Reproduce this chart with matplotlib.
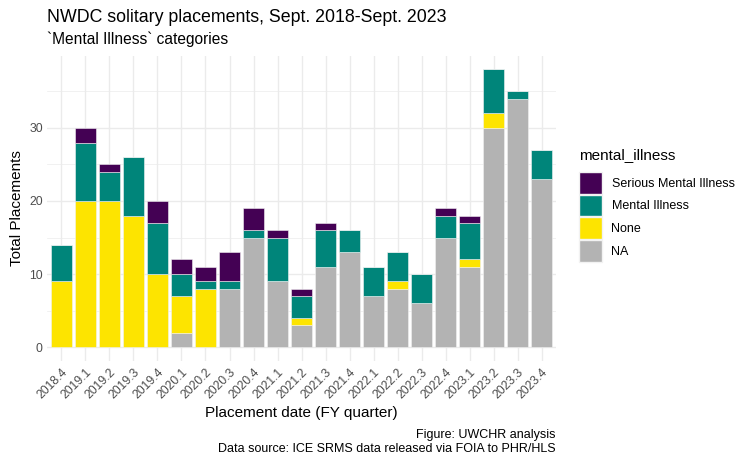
import matplotlib
matplotlib.use("Agg")
import matplotlib.pyplot as plt
from matplotlib.patches import Patch
import numpy as np

plt.rcParams['font.family'] = ['Liberation Sans', 'DejaVu Sans']

# quarters and counts per mental_illness category
quarters = ["2018.4", "2019.1", "2019.2", "2019.3", "2019.4", "2020.1", "2020.2",
            "2020.3", "2020.4", "2021.1", "2021.2", "2021.3", "2021.4", "2022.1",
            "2022.2", "2022.3", "2022.4", "2023.1", "2023.2", "2023.3", "2023.4"]
na_vals = [0, 0, 0, 0, 0, 2, 0, 8, 15, 9, 3, 11, 13, 7, 8, 6, 15, 11, 30, 34, 23]
none_vals = [9, 20, 20, 18, 10, 5, 8, 0, 0, 0, 1, 0, 0, 0, 1, 0, 0, 1, 2, 0, 0]
mi_vals = [5, 8, 4, 8, 7, 3, 1, 1, 1, 6, 3, 5, 3, 4, 4, 4, 3, 5, 6, 1, 4]
smi_vals = [0, 2, 1, 0, 3, 2, 2, 4, 3, 1, 1, 1, 0, 0, 0, 0, 1, 1, 0, 0, 0]

# couleurs (viridis + gris pour NA)
col_smi = "#440154"
col_mi = "#00857A"
col_none = "#FDE400"
col_na = "#B3B3B3"

fig = plt.figure(figsize=(7.5, 4.63), dpi=100)
ax = fig.add_axes([0.0627, 0.2203, 0.6787, 0.6597])

x = np.arange(len(quarters))
na = np.array(na_vals)
nn = np.array(none_vals)
mi = np.array(mi_vals)
smi = np.array(smi_vals)

kw = dict(width=0.9, edgecolor="#F2F2F2", linewidth=0.4, zorder=3)
ax.bar(x, na, color=col_na, **kw)
ax.bar(x, nn, bottom=na, color=col_none, **kw)
ax.bar(x, mi, bottom=na + nn, color=col_mi, **kw)
ax.bar(x, smi, bottom=na + nn + mi, color=col_smi, **kw)

total_max = (na + nn + mi + smi).max()
ax.set_ylim(-0.05 * total_max, total_max * 1.05)
ax.set_xlim(-0.6, len(quarters) - 0.4)

# grille façon theme_minimal
ax.set_yticks([0, 10, 20, 30])
ax.set_yticks([5, 15, 25, 35], minor=True)
ax.set_xticks(x)
ax.set_xticklabels(quarters, rotation=45, ha="right", rotation_mode="anchor",
                   fontsize=8.8, color="#4D4D4D")
ax.tick_params(axis="y", labelsize=8.8, labelcolor="#4D4D4D")
ax.tick_params(length=0, pad=3)
ax.tick_params(axis="x", pad=4)
ax.tick_params(which="minor", length=0)
ax.grid(which="major", color="#EBEBEB", linewidth=1.0, zorder=0)
ax.grid(which="minor", axis="y", color="#EBEBEB", linewidth=0.5, zorder=0)
ax.set_axisbelow(True)
for s in ax.spines.values():
    s.set_visible(False)

ax.set_xlabel("Placement date (FY quarter)", fontsize=11, labelpad=3)
ax.set_ylabel("Total Placements", fontsize=11, labelpad=4)

fig.text(0.0627, 0.963, "NWDC solitary placements, Sept. 2018-Sept. 2023",
         fontsize=12.8, va="center", ha="left")
fig.text(0.0627, 0.915, "`Mental Illness` categories",
         fontsize=11.2, va="center", ha="left")

fig.text(0.741, 0.060, "Figure: UWCHR analysis", fontsize=9, ha="right", va="center")
fig.text(0.741, 0.030, "Data source: ICE SRMS data released via FOIA to PHR/HLS",
         fontsize=9, ha="right", va="center")

handles = [Patch(facecolor=col_smi, edgecolor="#F2F2F2", label="Serious Mental Illness"),
           Patch(facecolor=col_mi, edgecolor="#F2F2F2", label="Mental Illness"),
           Patch(facecolor=col_none, edgecolor="#F2F2F2", label="None"),
           Patch(facecolor=col_na, edgecolor="#F2F2F2", label="NA")]
leg = fig.legend(handles=handles, loc="upper left", bbox_to_anchor=(0.772, 0.68),
                 frameon=False, fontsize=9, title="mental_illness",
                 title_fontsize=11, handlelength=1.8, handleheight=2.3,
                 labelspacing=0.08, handletextpad=0.8, borderaxespad=0, borderpad=0)
leg._legend_box.align = "left"
leg._legend_box.sep = 7

fig.savefig("out.png", dpi=100)
